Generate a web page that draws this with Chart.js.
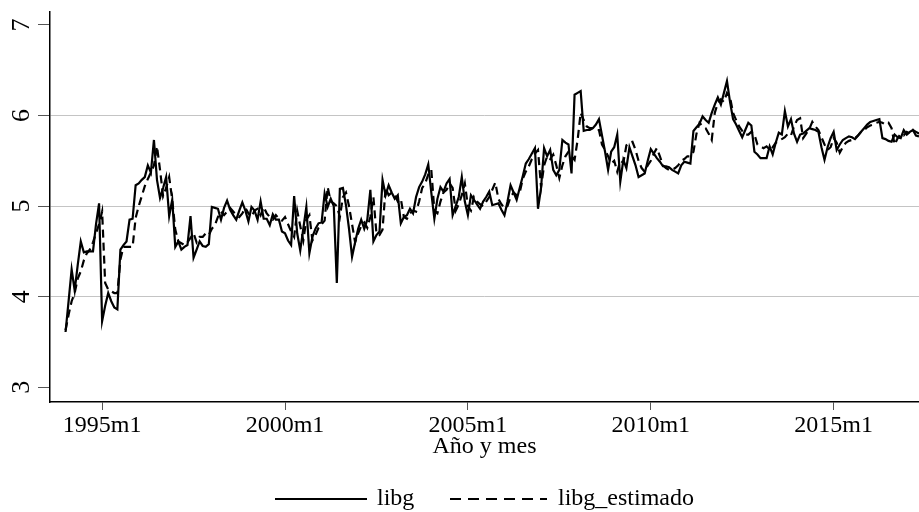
<!DOCTYPE html>
<html>
<head>
<meta charset="utf-8">
<script src="https://cdn.jsdelivr.net/npm/chart.js@4.4.1/dist/chart.umd.min.js"></script>
<style>
  body { margin: 0; background: #ffffff; }
  canvas { display: block; }
</style>
</head>
<body>
<canvas id="chart" width="919" height="512"></canvas>
<script>
// Monthly series from 1994m1 (index 0) to 2017m5 (index 280)
const libg = [
  3.61, 3.95, 4.30, 4.07, 4.35, 4.61, 4.49, 4.50, 4.50, 4.50, 4.80, 5.03,
  3.73, 3.90, 4.04, 3.95, 3.88, 3.86, 4.52, 4.57, 4.61, 4.85, 4.86, 5.23,
  5.25, 5.29, 5.32, 5.45, 5.37, 5.73, 5.29, 5.09, 5.20, 5.32, 4.89, 5.07,
  4.55, 4.61, 4.52, 4.55, 4.57, 4.89, 4.43, 4.52, 4.61, 4.56, 4.55, 4.58,
  4.99, 4.98, 4.97, 4.85, 4.98, 5.06, 4.96, 4.90, 4.85, 4.95, 5.04, 4.95,
  4.83, 4.99, 4.95, 4.85, 5.05, 4.86, 4.86, 4.79, 4.91, 4.85, 4.85, 4.72,
  4.70, 4.62, 4.57, 5.11, 4.70, 4.51, 4.75, 4.99, 4.48, 4.66, 4.75, 4.81,
  4.82, 5.14, 4.99, 5.08, 5.00, 4.15, 5.19, 5.20, 5.01, 4.75, 4.44, 4.60,
  4.75, 4.85, 4.75, 4.85, 5.18, 4.61, 4.68, 4.72, 5.29, 5.12, 5.23, 5.15,
  5.08, 5.12, 4.81, 4.88, 4.90, 4.97, 4.92, 5.10, 5.21, 5.27, 5.35, 5.46,
  5.15, 4.86, 5.08, 5.21, 5.16, 5.25, 5.30, 4.90, 5.00, 5.10, 5.32, 5.05,
  4.90, 5.12, 5.07, 5.02, 4.97, 5.05, 5.10, 5.16, 5.01, 5.02, 5.03, 4.96,
  4.90, 5.05, 5.23, 5.15, 5.07, 5.20, 5.33, 5.47, 5.52, 5.58, 5.64, 4.97,
  5.20, 5.64, 5.55, 5.62, 5.40, 5.34, 5.40, 5.73, 5.70, 5.68, 5.36, 6.23,
  6.25, 6.27, 5.83, 5.84, 5.84, 5.86, 5.90, 5.96, 5.78, 5.60, 5.40, 5.60,
  5.65, 5.79, 5.27, 5.51, 5.42, 5.65, 5.55, 5.45, 5.32, 5.34, 5.36, 5.50,
  5.63, 5.58, 5.53, 5.49, 5.44, 5.44, 5.43, 5.40, 5.38, 5.36, 5.45, 5.49,
  5.48, 5.47, 5.83, 5.87, 5.91, 5.99, 5.95, 5.92, 6.03, 6.12, 6.20, 6.12,
  6.25, 6.38, 6.15, 5.96, 5.90, 5.83, 5.76, 5.84, 5.92, 5.89, 5.60, 5.57,
  5.53, 5.53, 5.53, 5.66, 5.57, 5.70, 5.81, 5.79, 6.05, 5.88, 5.96, 5.80,
  5.71, 5.79, 5.80, 5.83, 5.86, 5.85, 5.84, 5.82, 5.65, 5.51, 5.65, 5.75,
  5.82, 5.62, 5.68, 5.73, 5.75, 5.77, 5.76, 5.74, 5.78, 5.82, 5.86, 5.90,
  5.93, 5.94, 5.95, 5.96, 5.75, 5.74, 5.72, 5.71, 5.79, 5.76, 5.75, 5.84,
  5.79, 5.82, 5.84, 5.78, 5.77
];

const libgEstimado = [
  3.63, 3.80, 3.95, 4.04, 4.20, 4.28, 4.40, 4.48, 4.52, 4.60, 4.70, 4.80,
  4.94, 4.15, 4.08, 4.06, 4.04, 4.04, 4.41, 4.55, 4.55, 4.55, 4.55, 4.87,
  5.00, 5.11, 5.22, 5.30, 5.37, 5.45, 5.66, 5.40, 5.11, 5.20, 5.32, 5.07,
  4.74, 4.61, 4.59, 4.57, 4.60, 4.65, 4.70, 4.60, 4.66, 4.66, 4.70, 4.68,
  4.75, 4.79, 4.88, 4.94, 4.90, 4.94, 4.98, 4.94, 4.90, 4.88, 4.92, 4.98,
  4.92, 4.88, 4.95, 4.97, 4.90, 4.99, 4.92, 4.88, 4.85, 4.90, 4.86, 4.84,
  4.88, 4.80, 4.72, 4.66, 4.95, 4.78, 4.62, 4.85, 4.90, 4.62, 4.68, 4.76,
  4.80, 4.84, 5.21, 5.05, 5.03, 5.00, 4.88, 5.10, 5.15, 5.00, 4.80, 4.60,
  4.70, 4.78, 4.82, 4.76, 4.88, 5.10, 4.70, 4.68, 4.74, 5.20, 5.12, 5.15,
  5.12, 5.05, 5.08, 4.88, 4.86, 4.92, 4.95, 4.94, 5.05, 5.20, 5.25, 5.35,
  5.40, 4.95, 4.92, 5.05, 5.15, 5.18, 5.25, 5.20, 4.95, 5.02, 5.12, 5.25,
  5.00, 4.95, 5.10, 5.05, 5.02, 5.00, 5.05, 5.10, 5.18, 5.26, 5.08, 5.02,
  4.98, 5.00, 5.10, 5.15, 5.12, 5.15, 5.30, 5.38, 5.44, 5.52, 5.58, 5.62,
  5.21, 5.45, 5.55, 5.52, 5.57, 5.45, 5.31, 5.45, 5.55, 5.60, 5.55, 5.51,
  5.73, 6.03, 5.95, 5.88, 5.86, 5.86, 5.84, 5.84, 5.68, 5.62, 5.55, 5.47,
  5.50, 5.38, 5.50, 5.48, 5.67, 5.70, 5.71, 5.62, 5.50, 5.42, 5.38, 5.45,
  5.50, 5.58, 5.64, 5.55, 5.45, 5.42, 5.40, 5.40, 5.42, 5.45, 5.50, 5.52,
  5.55, 5.55, 5.60, 5.80, 5.92, 5.88, 5.86, 5.80, 5.73, 6.03, 6.14, 6.18,
  6.15, 6.25, 6.20, 6.03, 5.95, 5.88, 5.83, 5.79, 5.79, 5.82, 5.79, 5.68,
  5.66, 5.64, 5.66, 5.62, 5.65, 5.70, 5.72, 5.74, 5.76, 5.80, 5.78, 5.88,
  5.95, 5.97, 5.75, 5.80, 5.85, 5.93, 5.88, 5.84, 5.76, 5.68, 5.62, 5.65,
  5.75, 5.70, 5.59, 5.65, 5.70, 5.72, 5.73, 5.75, 5.78, 5.82, 5.84, 5.87,
  5.89, 5.90, 5.92, 5.93, 5.92, 5.90, 5.92, 5.86, 5.68, 5.75, 5.80, 5.78,
  5.82, 5.80, 5.84, 5.82, 5.80
];

// x ticks: month index (0 = 1994m1) and their labels
const xTickPos = [12, 72, 132, 192, 252];
const xTickLabels = ['1995m1', '2000m1', '2005m1', '2010m1', '2015m1'];
const yTickVals = [3, 4, 5, 6, 7];

const serif = 'Liberation Serif, Times New Roman, serif';

function toPoints(arr) {
    return arr.map((v, i) => ({ x: i, y: v }));
}

// Rotated y tick labels (Stata style)
const yLabelsPlugin = {
    id: 'yLabels',
    afterDraw(chart) {
        const ctx = chart.ctx;
        const y = chart.scales.y;
        ctx.save();
        ctx.fillStyle = '#000';
        ctx.font = '26px ' + serif;
        ctx.textAlign = 'center';
        ctx.textBaseline = 'alphabetic';
        yTickVals.forEach(v => {
            ctx.save();
            ctx.translate(29, y.getPixelForValue(v));
            ctx.rotate(-Math.PI / 2);
            ctx.fillText(String(v), 0, 0);
            ctx.restore();
        });
        ctx.restore();
    }
};

// Legend at the bottom
const legendPlugin = {
    id: 'bottomLegend',
    afterDraw(chart) {
        const ctx = chart.ctx;
        const ds = chart.data.datasets;
        const items = [
            { x1: 275, x2: 367, tx: 377, dash: [] },
            { x1: 450, x2: 547, tx: 558, dash: [11, 7] }
        ];
        ctx.save();
        ctx.font = '24px ' + serif;
        ctx.fillStyle = '#000';
        ctx.textBaseline = 'alphabetic';
        items.forEach((it, i) => {
            ctx.beginPath();
            ctx.setLineDash(it.dash);
            ctx.lineWidth = 2;
            ctx.strokeStyle = ds[i].borderColor;
            ctx.moveTo(it.x1, 499);
            ctx.lineTo(it.x2, 499);
            ctx.stroke();
            ctx.fillText(ds[i].label, it.tx, 505);
        });
        ctx.restore();
    }
};

new Chart(document.getElementById('chart').getContext('2d'), {
    type: 'line',
    data: {
        datasets: [{
            label: 'libg',
            data: toPoints(libg),
            borderColor: '#000000',
            borderWidth: 2.2,
            pointRadius: 0,
            tension: 0,
            fill: false,
        }, {
            label: 'libg_estimado',
            data: toPoints(libgEstimado),
            borderColor: '#000000',
            borderWidth: 2.2,
            borderDash: [8, 5],
            pointRadius: 0,
            tension: 0,
            fill: false,
        }],
    },
    options: {
        responsive: false,
        animation: false,
        layout: {
            padding: { left: 0, right: 0, top: 12, bottom: 51 },
        },
        plugins: {
            legend: { display: false },
            tooltip: { enabled: false },
        },
        scales: {
            x: {
                type: 'linear',
                min: -5.1,
                max: 280,
                afterBuildTicks: s => { s.ticks = xTickPos.map(v => ({ value: v })); },
                afterFit: s => { s.height = 59; },
                ticks: {
                    autoSkip: false,
                    maxRotation: 0,
                    padding: 1,
                    color: '#000',
                    font: { family: serif, size: 24 },
                    callback: (v, i) => xTickLabels[i],
                },
                grid: {
                    drawOnChartArea: false,
                    drawTicks: true,
                    tickLength: 8,
                    tickColor: '#555',
                },
                border: { color: '#000', width: 1.5 },
                title: {
                    display: true,
                    text: 'Año y mes',
                    color: '#000',
                    font: { family: serif, size: 24 },
                    padding: 0,
                },
            },
            y: {
                min: 2.837,
                max: 7.143,
                afterBuildTicks: s => { s.ticks = yTickVals.map(v => ({ value: v })); },
                afterFit: s => { s.width = 50; },
                ticks: { display: false },
                grid: {
                    color: c => (c.tick && c.tick.value > 3 && c.tick.value < 7) ? '#c4c4c4' : 'rgba(0,0,0,0)',
                    lineWidth: 1,
                    drawTicks: true,
                    tickLength: 12,
                    tickColor: '#555',
                },
                border: { color: '#000', width: 1.5 },
            },
        },
    },
    plugins: [yLabelsPlugin, legendPlugin],
});
</script>
</body>
</html>
